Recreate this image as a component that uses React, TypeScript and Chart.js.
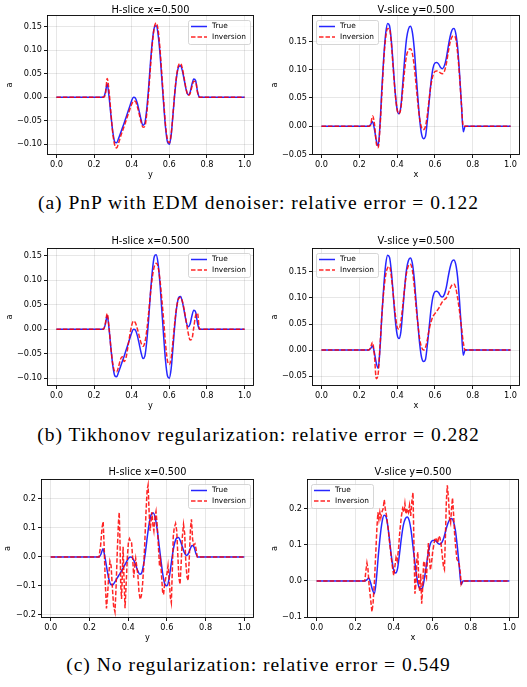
import React, { useEffect, useRef } from 'react';
import { Chart, registerables } from 'chart.js';

Chart.register(...registerables);

// ---------------- data ----------------
const X_GRID = [0,
  0.25, 0.26, 0.27, 0.28, 0.29, 0.30, 0.31, 0.32, 0.33, 0.34,
  0.35, 0.36, 0.37, 0.38, 0.39, 0.40, 0.41, 0.42, 0.43, 0.44,
  0.45, 0.46, 0.47, 0.48, 0.49, 0.50, 0.51, 0.52, 0.53, 0.54,
  0.55, 0.56, 0.57, 0.58, 0.59, 0.60, 0.61, 0.62, 0.63, 0.64,
  0.65, 0.66, 0.67, 0.68, 0.69, 0.70, 0.71, 0.72, 0.73, 0.74,
  0.75, 0.76, 0.77,
  1.0];

const TRUE_H = [0,
  0, 0.01, 0.028, 0.0, -0.04, -0.075, -0.095, -0.097, -0.088, -0.077,
  -0.066, -0.055, -0.043, -0.031, -0.019, -0.007, 0.0, -0.002, -0.013, -0.03,
  -0.048, -0.06, -0.055, -0.025, 0.02, 0.075, 0.12, 0.148, 0.152, 0.135,
  0.095, 0.04, -0.015, -0.065, -0.095, -0.1, -0.08, -0.035, 0.012, 0.047,
  0.065, 0.067, 0.055, 0.035, 0.015, 0.005, 0.01, 0.027, 0.039, 0.035,
  0.012, 0.0, 0.0,
  0];

const INV_H_PNP = [0,
  0, 0.005, 0.04, 0.012, -0.035, -0.078, -0.102, -0.108, -0.098, -0.085,
  -0.073, -0.062, -0.05, -0.038, -0.026, -0.015, -0.008, -0.009, -0.02, -0.036,
  -0.053, -0.064, -0.062, -0.035, 0.01, 0.065, 0.115, 0.148, 0.158, 0.145,
  0.105, 0.05, -0.008, -0.06, -0.09, -0.097, -0.078, -0.033, 0.015, 0.05,
  0.069, 0.072, 0.06, 0.038, 0.016, 0.004, 0.007, 0.022, 0.034, 0.033,
  0.01, 0.0, 0.0,
  0];

const INV_H_TIK = [0,
  0, 0.012, 0.032, 0.002, -0.04, -0.072, -0.086, -0.087, -0.077, -0.062,
  -0.056, -0.066, -0.058, -0.036, -0.012, 0.008, 0.017, 0.013, 0.001, -0.014,
  -0.028, -0.035, -0.027, -0.003, 0.033, 0.073, 0.107, 0.128, 0.135, 0.128,
  0.102, 0.062, 0.018, -0.03, -0.064, -0.072, -0.058, -0.022, 0.018, 0.048,
  0.063, 0.065, 0.056, 0.038, 0.015, -0.007, -0.022, -0.02, 0.004, 0.028,
  0.033, 0.0, 0.0,
  0];

const TRUE_V = [0,
  0, 0.003, 0.008, -0.005, -0.025, -0.035, 0.005, 0.07, 0.125, 0.165,
  0.182, 0.178, 0.15, 0.105, 0.06, 0.03, 0.022, 0.035, 0.075, 0.12,
  0.155, 0.172, 0.177, 0.168, 0.14, 0.095, 0.05, 0.01, -0.015, -0.022,
  -0.018, 0.01, 0.045, 0.08, 0.103, 0.112, 0.113, 0.11, 0.104, 0.102,
  0.107, 0.12, 0.14, 0.158, 0.17, 0.173, 0.165, 0.14, 0.095, 0.04,
  -0.01, 0.0, 0.0,
  0];

const INV_V_PNP = [0,
  0, 0.002, 0.018, 0.005, -0.03, -0.038, 0.0, 0.06, 0.12, 0.158,
  0.173, 0.172, 0.145, 0.1, 0.058, 0.03, 0.022, 0.032, 0.065, 0.1,
  0.125, 0.135, 0.137, 0.13, 0.108, 0.075, 0.04, 0.012, -0.003, -0.006,
  0.0, 0.02, 0.05, 0.075, 0.09, 0.097, 0.098, 0.097, 0.094, 0.093,
  0.097, 0.11, 0.13, 0.148, 0.158, 0.16, 0.155, 0.13, 0.09, 0.04,
  0.0, 0.0, 0.0,
  0];

const INV_V_TIK = [0,
  0, 0.005, 0.015, -0.01, -0.055, -0.045, 0.01, 0.07, 0.115, 0.145,
  0.158, 0.16, 0.14, 0.105, 0.07, 0.045, 0.04, 0.055, 0.085, 0.12,
  0.148, 0.162, 0.165, 0.155, 0.125, 0.085, 0.05, 0.02, 0.005, 0.0,
  0.005, 0.02, 0.04, 0.055, 0.065, 0.07, 0.075, 0.08, 0.087, 0.093,
  0.097, 0.1, 0.108, 0.118, 0.125, 0.127, 0.12, 0.1, 0.075, 0.045,
  0.015, 0.0, 0.0,
  0];

const NOREG_H_X = [0, 0.25, 0.258, 0.265, 0.271, 0.277, 0.282, 0.288, 0.294, 0.3,
  0.306, 0.312, 0.318, 0.325, 0.332, 0.338, 0.344, 0.35, 0.354, 0.358,
  0.362, 0.366, 0.37, 0.374, 0.378, 0.384, 0.39, 0.396, 0.402, 0.407,
  0.413, 0.418, 0.424, 0.429, 0.434, 0.439, 0.444, 0.45, 0.456, 0.462,
  0.468, 0.474, 0.48, 0.486, 0.492, 0.498, 0.503, 0.508, 0.513, 0.518,
  0.523, 0.528, 0.533, 0.539, 0.544, 0.55, 0.556, 0.562, 0.567, 0.572,
  0.578, 0.583, 0.589, 0.595, 0.6, 0.606, 0.612, 0.618, 0.623, 0.628,
  0.633, 0.638, 0.645, 0.651, 0.657, 0.662, 0.668, 0.674, 0.68, 0.686,
  0.692, 0.698, 0.704, 0.71, 0.716, 0.722, 0.727, 0.733, 0.739, 0.745,
  0.75, 0.757, 0.765, 1];
const NOREG_H_Y = [0, 0, 0.04, 0.1, 0.122, 0.02, -0.09, -0.178, -0.13, -0.06,
  -0.015, -0.03, -0.1, -0.17, -0.19, -0.1, 0.02, 0.12, 0.154, 0.05,
  -0.1, -0.145, -0.06, 0.035, -0.06, -0.177, -0.09, 0.0, 0.055, 0.063,
  0.05, 0.048, -0.01, -0.072, -0.03, -0.005, -0.03, -0.06, -0.12, -0.147,
  -0.135, -0.1, -0.04, 0.05, 0.15, 0.23, 0.248, 0.16, 0.09, 0.12,
  0.155, 0.11, 0.09, 0.14, 0.157, 0.11, 0.04, -0.03, -0.01, -0.06,
  -0.12, -0.13, -0.09, -0.07, -0.06, -0.03, -0.08, -0.14, -0.158, -0.05,
  0.07, 0.1, 0.115, 0.09, 0.0, -0.07, -0.095, -0.02, 0.07, 0.112,
  0.08, -0.02, -0.07, -0.082, 0.0, 0.1, 0.13, 0.06, 0.04, 0.045,
  0.03, 0.0, 0, 0];

const NOREG_V_X = [0, 0.25, 0.256, 0.261, 0.266, 0.272, 0.28, 0.287, 0.293, 0.3,
  0.307, 0.313, 0.318, 0.323, 0.328, 0.333, 0.338, 0.345, 0.351, 0.356,
  0.362, 0.37, 0.378, 0.386, 0.393, 0.4, 0.406, 0.412, 0.418, 0.425,
  0.432, 0.44, 0.446, 0.452, 0.458, 0.464, 0.47, 0.476, 0.482, 0.488,
  0.494, 0.5, 0.505, 0.51, 0.515, 0.52, 0.525, 0.53, 0.535, 0.54,
  0.545, 0.55, 0.555, 0.56, 0.565, 0.57, 0.575, 0.58, 0.585, 0.59,
  0.596, 0.602, 0.608, 0.615, 0.622, 0.628, 0.634, 0.64, 0.646, 0.652,
  0.658, 0.663, 0.668, 0.673, 0.678, 0.684, 0.69, 0.695, 0.7, 0.705,
  0.71, 0.716, 0.722, 0.728, 0.734, 0.74, 0.746, 0.75, 0.756, 0.765,
  1];
const NOREG_V_Y = [0, 0, 0.03, 0.05, 0.035, -0.01, -0.05, -0.085, -0.06, 0.0,
  0.08, 0.15, 0.19, 0.17, 0.19, 0.175, 0.19, 0.2, 0.225, 0.2,
  0.183, 0.15, 0.11, 0.07, 0.04, 0.015, 0.04, 0.065, 0.055, 0.09,
  0.14, 0.18, 0.2, 0.19, 0.215, 0.185, 0.2, 0.19, 0.21, 0.18,
  0.22, 0.245, 0.1, -0.035, -0.01, 0.06, 0.08, 0.0, -0.03, 0.02,
  -0.063, -0.02, 0.05, 0.055, 0.02, 0.01, 0.06, 0.105, 0.07, 0.03,
  0.05, 0.08, 0.1, 0.12, 0.115, 0.105, 0.125, 0.12, 0.1, 0.07,
  0.04, 0.032, 0.12, 0.22, 0.265, 0.23, 0.17, 0.16, 0.2, 0.23,
  0.19, 0.13, 0.09, 0.06, 0.055, 0.045, 0.02, -0.008, 0.0, 0,
  0];

const X_TICKS = [0, 0.2, 0.4, 0.6, 0.8, 1.0];
const Y_TICKS_H_SMALL = [-0.1, -0.05, 0, 0.05, 0.1, 0.15];
const Y_TICKS_V_SMALL = [-0.05, 0, 0.05, 0.1, 0.15];
const Y_TICKS_H_NOREG = [-0.2, -0.1, 0, 0.1, 0.2];
const Y_TICKS_V_NOREG = [-0.1, 0, 0.1, 0.2];

const TITLES = ['H-slice x=0.500', 'V-slice y=0.500'];
const X_LABELS = ['y', 'x'];
const Y_LABEL = 'a';
const LEGEND_LABELS = ['True', 'Inversion'];
const CAPTIONS = [
  '(a) PnP with EDM denoiser: relative error = 0.122',
  '(b) Tikhonov regularization: relative error = 0.282',
  '(c) No regularization: relative error = 0.549',
];

// ---------------- layout / style ----------------
const YW = 45, PT = 22, PR = 6, XH = 32;
const FONT = '"DejaVu Sans", sans-serif';
const BLUE = 'rgba(0,0,255,0.85)';
const RED = 'rgba(255,0,0,0.85)';
const LW = 1.5;

function fmt(v: number, d: number) {
  const s = Math.abs(v).toFixed(d);
  return (v < -1e-9 ? '\u2212' : '') + s;
}

type PanelSpec = {
  x0: number; x1: number; top: number; bottom: number;
  ymin: number; ymax: number; yTicks: number[]; dec: number;
  title: string; xlabel: string; legend: 'left' | 'right';
  trueX: number[]; trueY: number[]; invX: number[]; invY: number[];
  titleGap: number; ylabOff: number; smoothInv: boolean;
};

const decor = {
  id: 'decor',
  afterDraw(chart: any, _a: any, o: any) {
    const { ctx, chartArea } = chart;
    const { left, top, right, bottom } = chartArea;
    ctx.save();
    ctx.setLineDash([]);
    ctx.strokeStyle = '#000';
    ctx.lineWidth = 0.9;
    ctx.strokeRect(left + 0.5, top + 0.5, right - left - 1, bottom - top - 1);

    ctx.fillStyle = '#000';
    ctx.font = `9.8px ${FONT}`;
    ctx.textAlign = 'center';
    ctx.textBaseline = 'alphabetic';
    ctx.fillText(o.title, (left + right) / 2, top - o.titleGap);

    ctx.font = `8.2px ${FONT}`;
    ctx.textBaseline = 'middle';
    ctx.fillText(o.xlabel, (left + right) / 2, bottom + 20);
    ctx.save();
    ctx.translate(left - o.ylabOff, (top + bottom) / 2);
    ctx.rotate(-Math.PI / 2);
    ctx.fillText(Y_LABEL, 0, 0);
    ctx.restore();

    // legend
    const bw = 62, bh = 24;
    const bx = o.legend === 'right' ? right - 4 - bw : left + 4;
    const by = top + 5;
    ctx.beginPath();
    if ((ctx as any).roundRect) (ctx as any).roundRect(bx + 0.5, by + 0.5, bw, bh, 2);
    else ctx.rect(bx + 0.5, by + 0.5, bw, bh);
    ctx.fillStyle = 'rgba(255,255,255,0.8)';
    ctx.fill();
    ctx.strokeStyle = '#cccccc';
    ctx.lineWidth = 0.8;
    ctx.stroke();

    const rows = [by + 6.5, by + 17];
    ctx.lineWidth = LW;
    ctx.strokeStyle = BLUE;
    ctx.beginPath(); ctx.moveTo(bx + 3, rows[0]); ctx.lineTo(bx + 19, rows[0]); ctx.stroke();
    ctx.strokeStyle = RED;
    ctx.setLineDash([4.5, 2]);
    ctx.beginPath(); ctx.moveTo(bx + 3, rows[1]); ctx.lineTo(bx + 19, rows[1]); ctx.stroke();
    ctx.setLineDash([]);
    ctx.fillStyle = '#000';
    ctx.font = `7.4px ${FONT}`;
    ctx.textAlign = 'left';
    ctx.textBaseline = 'middle';
    ctx.fillText(LEGEND_LABELS[0], bx + 24, rows[0]);
    ctx.fillText(LEGEND_LABELS[1], bx + 24, rows[1]);
    ctx.restore();
  },
};

function Panel({ p }: { p: PanelSpec }) {
  const ref = useRef<HTMLCanvasElement>(null);
  const d = p.x1 - p.x0;
  const Li = Math.round(p.x0 - 0.05 * d);
  const Ri = Math.round(p.x1 + 0.05 * d);
  const Ti = Math.round(p.top);
  const Bi = Math.round(p.bottom);
  const cl = Li - YW, ct = Ti - PT;
  const cw = Ri - Li + YW + PR, ch = Bi - Ti + PT + XH;

  useEffect(() => {
    const grid = { color: 'rgba(0,0,0,0.12)', lineWidth: 0.8, drawTicks: true, tickLength: 3, tickColor: '#000', tickWidth: 0.9 };
    const chart = new Chart(ref.current as HTMLCanvasElement, {
      type: 'line',
      data: {
        datasets: [
          {
            label: LEGEND_LABELS[0],
            data: p.trueX.map((x, i) => ({ x, y: p.trueY[i] })),
            borderColor: BLUE, borderWidth: LW, pointRadius: 0, fill: false,
            cubicInterpolationMode: 'monotone', order: 1,
          },
          {
            label: LEGEND_LABELS[1],
            data: p.invX.map((x, i) => ({ x, y: p.invY[i] })),
            borderColor: RED, borderWidth: LW, borderDash: [4.5, 2], pointRadius: 0, fill: false,
            cubicInterpolationMode: p.smoothInv ? 'monotone' : 'default', tension: 0, order: 0,
          },
        ],
      } as any,
      options: {
        responsive: false,
        animation: false,
        devicePixelRatio: 1,
        events: [],
        layout: { padding: { top: PT, right: PR, left: 0, bottom: 0 } },
        plugins: {
          legend: { display: false },
          title: { display: false },
          tooltip: { enabled: false },
          decor: { title: p.title, xlabel: p.xlabel, legend: p.legend, titleGap: p.titleGap, ylabOff: p.ylabOff },
        } as any,
        scales: {
          x: {
            type: 'linear', min: -0.05, max: 1.05,
            afterBuildTicks: (a: any) => { a.ticks = X_TICKS.map((v) => ({ value: v })); },
            afterFit: (a: any) => { a.height = XH; },
            ticks: { callback: (v: any) => fmt(Number(v), 1), font: { family: FONT, size: 8.2 }, color: '#000', padding: 2, maxRotation: 0, autoSkip: false },
            grid,
            border: { display: false },
          },
          y: {
            type: 'linear', min: p.ymin, max: p.ymax,
            afterBuildTicks: (a: any) => { a.ticks = p.yTicks.map((v) => ({ value: v })); },
            afterFit: (a: any) => { a.width = YW; },
            ticks: { callback: (v: any) => fmt(Number(v), p.dec), font: { family: FONT, size: 8.2 }, color: '#000', padding: 2, autoSkip: false },
            grid,
            border: { display: false },
          },
        },
      } as any,
      plugins: [decor],
    });
    return () => chart.destroy();
  }, []);

  return (
    <canvas
      ref={ref}
      width={cw}
      height={ch}
      style={{ position: 'absolute', left: cl, top: ct, width: cw, height: ch }}
    />
  );
}

const PANELS: PanelSpec[] = [
  { x0: 56, x1: 245, top: 15, bottom: 155, ymin: -0.123, ymax: 0.175, yTicks: Y_TICKS_H_SMALL, dec: 2,
    title: TITLES[0], xlabel: X_LABELS[0], legend: 'right', trueX: X_GRID, trueY: TRUE_H, invX: X_GRID, invY: INV_H_PNP,
    titleGap: 2.5, ylabOff: 37.5, smoothInv: true },
  { x0: 321.7, x1: 510.3, top: 15, bottom: 155, ymin: -0.051, ymax: 0.197, yTicks: Y_TICKS_V_SMALL, dec: 2,
    title: TITLES[1], xlabel: X_LABELS[1], legend: 'left', trueX: X_GRID, trueY: TRUE_V, invX: X_GRID, invY: INV_V_PNP,
    titleGap: 2.5, ylabOff: 37, smoothInv: true },
  { x0: 56, x1: 245, top: 247.7, bottom: 386, ymin: -0.116, ymax: 0.166, yTicks: Y_TICKS_H_SMALL, dec: 2,
    title: TITLES[0], xlabel: X_LABELS[0], legend: 'right', trueX: X_GRID, trueY: TRUE_H, invX: X_GRID, invY: INV_H_TIK,
    titleGap: 4, ylabOff: 37.5, smoothInv: true },
  { x0: 321.7, x1: 510.3, top: 247.7, bottom: 386, ymin: -0.069, ymax: 0.196, yTicks: Y_TICKS_V_SMALL, dec: 2,
    title: TITLES[1], xlabel: X_LABELS[1], legend: 'left', trueX: X_GRID, trueY: TRUE_V, invX: X_GRID, invY: INV_V_TIK,
    titleGap: 4, ylabOff: 37, smoothInv: true },
  { x0: 51, x1: 244.5, top: 478.7, bottom: 618, ymin: -0.211, ymax: 0.269, yTicks: Y_TICKS_H_NOREG, dec: 1,
    title: TITLES[0], xlabel: X_LABELS[0], legend: 'right', trueX: X_GRID, trueY: TRUE_H, invX: NOREG_H_X, invY: NOREG_H_Y,
    titleGap: 4, ylabOff: 33.5, smoothInv: false },
  { x0: 316.7, x1: 509, top: 478.7, bottom: 618, ymin: -0.1025, ymax: 0.2825, yTicks: Y_TICKS_V_NOREG, dec: 1,
    title: TITLES[1], xlabel: X_LABELS[1], legend: 'left', trueX: X_GRID, trueY: TRUE_V, invX: NOREG_V_X, invY: NOREG_V_Y,
    titleGap: 4, ylabOff: 32, smoothInv: false },
];

const CAPTION_Y = [203, 435, 665];

export default function App() {
  return (
    <div style={{ position: 'absolute', left: 0, top: 0, width: 527, height: 687, overflow: 'hidden', background: '#fff' }}>
      {PANELS.map((p, i) => <Panel key={i} p={p} />)}
      {CAPTIONS.map((c, i) => (
        <div
          key={i}
          style={{
            position: 'absolute', left: 0, width: 517, top: CAPTION_Y[i] - 15, height: 30, lineHeight: '30px',
            textAlign: 'center', whiteSpace: 'nowrap', fontFamily: '"Liberation Serif", serif', fontSize: 19.5,
            letterSpacing: 1, color: '#000',
          }}
        >
          {c}
        </div>
      ))}
    </div>
  );
}
